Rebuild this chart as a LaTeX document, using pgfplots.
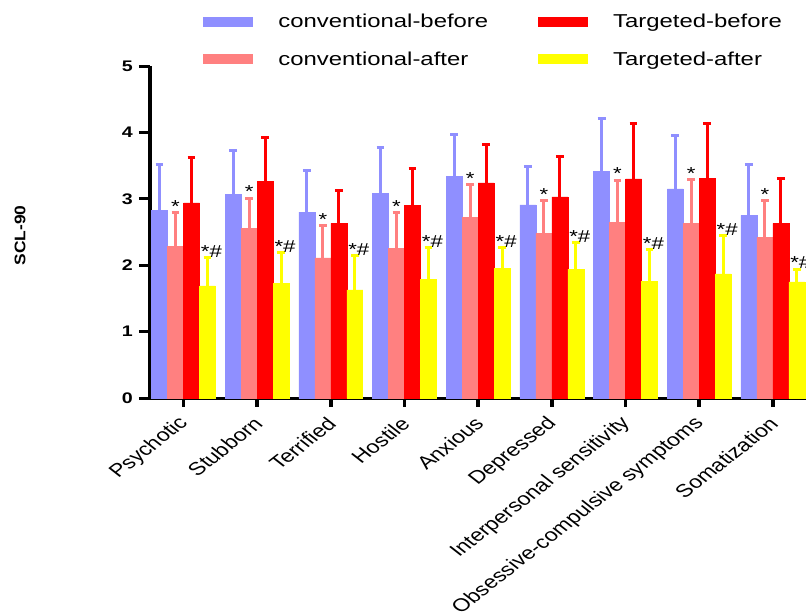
\documentclass[border=0pt]{standalone}
\usepackage{fontspec}
\setmainfont{Liberation Sans}
\usepackage{pgfplots}
\pgfplotsset{compat=1.18}
\usepackage{pgfplotstable}

\definecolor{cb}{HTML}{8F8FFF}
\definecolor{ca}{HTML}{FF8080}
\definecolor{tb}{HTML}{FF0000}
\definecolor{ta}{HTML}{FFFF00}

\pgfplotstableread{
x cb cbe ca cae tb tbe ta tae
0 2.83 0.69 2.28 0.51 2.94 0.68 1.69 0.42
1 3.07 0.65 2.55 0.46 3.26 0.67 1.73 0.46
2 2.80 0.63 2.11 0.49 2.63 0.49 1.63 0.51
3 3.08 0.69 2.25 0.54 2.90 0.56 1.79 0.47
4 3.34 0.63 2.72 0.49 3.24 0.58 1.95 0.32
5 2.91 0.57 2.48 0.49 3.03 0.61 1.94 0.40
6 3.41 0.80 2.65 0.63 3.30 0.84 1.76 0.47
7 3.15 0.81 2.63 0.66 3.31 0.82 1.87 0.57
8 2.75 0.77 2.42 0.55 2.63 0.68 1.75 0.19
}\data

\begin{document}
\begin{tikzpicture}
\begin{scope}[transform canvas={xscale=1.28}]
\begin{axis}[
  scale only axis, width=384.4pt, height=249pt,
  xmin=-0.455, xmax=8.45, ymin=0, ymax=5,
  axis x line=bottom, axis y line=left,
  axis line style={-, line width=2.25pt},
  xtick={0,...,8}, ytick={0,...,5},
  xticklabels={Psychotic,Stubborn,Terrified,Hostile,Anxious,Depressed,Interpersonal sensitivity,Obsessive-compulsive symptoms,Somatization},
  tick align=outside, major tick length=6.5pt,
  tick style={line width=2.25pt, black},
  xticklabel style={xshift=3pt, yshift=-8pt, rotate=45, anchor=east, font=\fontsize{13.6}{15}\selectfont},
  yticklabel style={font=\bfseries\fontsize{11.5}{13}\selectfont},
  /pgf/number format/assume math mode=true,
  ylabel={\scalebox{1.45}[1]{SCL-90}},
  ylabel style={font=\bfseries\fontsize{9}{11}\selectfont, at={(axis description cs:-0.198,0.49)}, anchor=center},
  ybar, bar width=0.217,
  legend columns=2,
  legend cell align=left,
  legend image code/.code={\fill[#1] (0pt,-3.75pt) rectangle (29.3pt,3.75pt);},
  legend style={at={(0.081,1.157)}, anchor=north west, draw=none, fill=none,
    inner sep=0pt, font=\fontsize{14}{16}\selectfont, row sep=16.5pt,
    nodes={inner sep=0pt},
    /tikz/every odd column/.append style={column sep=14.6pt},
    /tikz/every even column/.append style={column sep=29.3pt}},
  nodes near coords style={font=\fontsize{13}{14}\selectfont, inner sep=1pt},
]
\addplot[forget plot, ybar, bar shift=-0.3255, fill=cb, draw=cb,
  error bars/.cd, y dir=plus, y explicit,
  error bar style={line width=1.75pt, cb},
  error mark options={rotate=90, line width=2.25pt, cb, mark size=2.3pt}]
  table[x=x, y=cb, y error=cbe] {\data};
\addplot[forget plot, ybar, bar shift=-0.1085, fill=ca, draw=ca,
  error bars/.cd, y dir=plus, y explicit,
  error bar style={line width=1.75pt, ca},
  error mark options={rotate=90, line width=2.25pt, ca, mark size=2.3pt}]
  table[x=x, y=ca, y error=cae] {\data};
\addplot[forget plot, ybar, bar shift=0.1085, fill=tb, draw=tb,
  error bars/.cd, y dir=plus, y explicit,
  error bar style={line width=1.75pt, tb},
  error mark options={rotate=90, line width=2.25pt, tb, mark size=2.3pt}]
  table[x=x, y=tb, y error=tbe] {\data};
\addplot[forget plot, ybar, bar shift=0.3255, fill=ta, draw=ta,
  error bars/.cd, y dir=plus, y explicit,
  error bar style={line width=1.75pt, ta},
  error mark options={rotate=90, line width=2.25pt, ta, mark size=2.3pt}]
  table[x=x, y=ta, y error=tae] {\data};
% significance marks
\addplot[forget plot, ybar, bar shift=-0.1085, draw=none, fill=none,
  nodes near coords={*}, nodes near coords style={anchor=south, yshift=-1pt}]
  table[x=x, y expr=\thisrow{ca}+\thisrow{cae}] {\data};
\addplot[forget plot, ybar, bar shift=0.3255, draw=none, fill=none,
  nodes near coords={*\#}, nodes near coords style={anchor=south, yshift=-1pt, xshift=2.3pt}]
  table[x=x, y expr=\thisrow{ta}+\thisrow{tae}] {\data};
\addlegendimage{fill=cb, draw=none}
\addlegendentry{conventional-before}
\addlegendimage{fill=tb, draw=none}
\addlegendentry{Targeted-before}
\addlegendimage{fill=ca, draw=none}
\addlegendentry{conventional-after}
\addlegendimage{fill=ta, draw=none}
\addlegendentry{Targeted-after}
\end{axis}
\end{scope}
\pgfresetboundingbox
\path (-112.5pt,-162pt) rectangle (492pt,298.5pt);
\end{tikzpicture}
\end{document}
